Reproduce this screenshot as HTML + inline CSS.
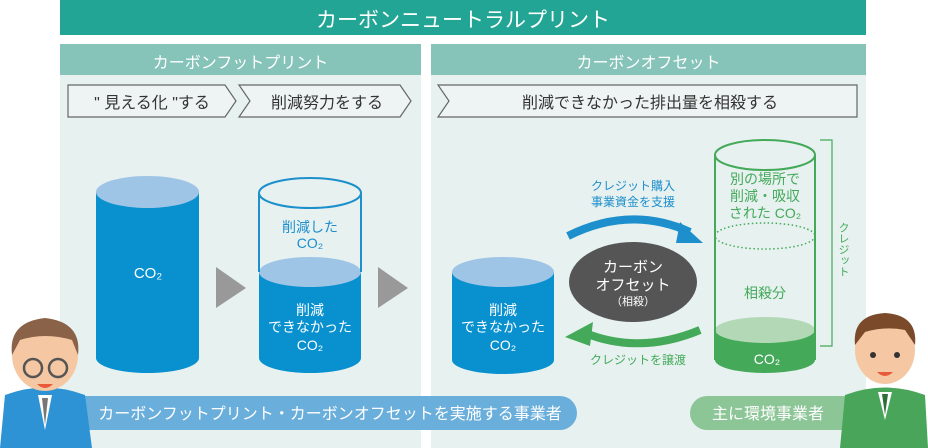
<!DOCTYPE html>
<html><head><meta charset="utf-8"><style>
body{margin:0;width:928px;height:448px;background:#fff;position:relative;overflow:hidden;font-family:"Liberation Sans","Noto Sans CJK JP",sans-serif;}
.a{position:absolute}
.t{position:absolute;text-align:center;color:#fff}
</style></head><body>
<div class="a" style="left:60px;top:0;width:806px;height:35px;background:#22a594"></div>
<div class="t" style="left:60px;top:4px;width:806px;font-size:21px;">カーボンニュートラルプリント</div>
<div class="a" style="left:60px;top:44px;width:361px;height:404px;background:#e7f1f0"></div>
<div class="a" style="left:431px;top:44px;width:435px;height:404px;background:#e7f1f0"></div>
<div class="a" style="left:60px;top:44px;width:361px;height:31px;background:#86c3b9"></div>
<div class="a" style="left:431px;top:44px;width:435px;height:31px;background:#86c3b9"></div>
<div class="t" style="left:60px;top:49px;width:361px;font-size:16px;">カーボンフットプリント</div>
<div class="t" style="left:431px;top:49px;width:435px;font-size:16px;">カーボンオフセット</div>
<svg class="a" style="left:0;top:0" width="928" height="448">
<g fill="#eef4f3" stroke="#666" stroke-width="1.2">
<polygon points="68,85 225,85 236,101 225,117 68,117"/>
<polygon points="239,85 400,85 411,101 400,117 239,117 250,101"/>
<polygon points="438,85 857,85 857,117 438,117 449,101"/>
</g>
<text x="152" y="108" font-size="16" fill="#333" text-anchor="middle">" 見える化 "する</text>
<text x="327" y="108" font-size="16" fill="#333" text-anchor="middle">削減努力をする</text>
<text x="650" y="108" font-size="16" fill="#333" text-anchor="middle">削減できなかった排出量を相殺する</text>
<path d="M96,192 V358 A51.5,15 0 0 0 199,358 V192 Z" fill="#0890cf"/>
<ellipse cx="147.5" cy="192" rx="51.5" ry="16" fill="#9ec4e6"/>
<text x="148" y="278" font-size="15" fill="#fff" text-anchor="middle">CO₂</text>
<path d="M259,272 V358 A51,15 0 0 0 361,358 V272 Z" fill="#0890cf"/>
<ellipse cx="310" cy="272" rx="51" ry="15" fill="#9ec4e6"/>
<path d="M259,193 V272 M361,193 V272" stroke="#1d8fcc" stroke-width="2"/>
<ellipse cx="310" cy="193" rx="51" ry="15" fill="none" stroke="#1d8fcc" stroke-width="2"/>
<text x="310" y="232" font-size="14" fill="#1d8fcc" text-anchor="middle">削減した</text>
<text x="310" y="248" font-size="14" fill="#1d8fcc" text-anchor="middle">CO₂</text>
<text x="310" y="315" font-size="14" fill="#fff" text-anchor="middle">削減</text>
<text x="310" y="332" font-size="14" fill="#fff" text-anchor="middle">できなかった</text>
<text x="310" y="350" font-size="14" fill="#fff" text-anchor="middle">CO₂</text>
<polygon points="216,267 246,288 216,308" fill="#999"/>
<polygon points="378,267 408,288 378,308" fill="#999"/>
<path d="M452,272 V360 A51,14 0 0 0 554,360 V272 Z" fill="#0890cf"/>
<ellipse cx="503" cy="272" rx="51" ry="15" fill="#9ec4e6"/>
<text x="503" y="315" font-size="14" fill="#fff" text-anchor="middle">削減</text>
<text x="503" y="332" font-size="14" fill="#fff" text-anchor="middle">できなかった</text>
<text x="503" y="350" font-size="14" fill="#fff" text-anchor="middle">CO₂</text>
<path d="M715,330 V360 A50,13 0 0 0 815,360 V330 Z" fill="#44aa5a"/>
<ellipse cx="765" cy="330" rx="50" ry="13" fill="#b3d8b5"/>
<path d="M715,155 V360 M815,155 V360" stroke="#44aa5a" stroke-width="2"/>
<ellipse cx="765" cy="155" rx="50" ry="15" fill="none" stroke="#44aa5a" stroke-width="2"/>
<ellipse cx="765" cy="236" rx="50" ry="13" fill="none" stroke="#44aa5a" stroke-width="1.5" stroke-dasharray="1.5,2.5"/>
<text x="765" y="184" font-size="14" fill="#44aa5a" text-anchor="middle">別の場所で</text>
<text x="765" y="201" font-size="14" fill="#44aa5a" text-anchor="middle">削減・吸収</text>
<text x="765" y="218" font-size="14" fill="#44aa5a" text-anchor="middle">された CO₂</text>
<text x="765" y="298" font-size="14" fill="#44aa5a" text-anchor="middle">相殺分</text>
<text x="767" y="364" font-size="14" fill="#fff" text-anchor="middle">CO₂</text>
<path d="M820,140 H832 V346 H820" fill="none" stroke="#44aa5a" stroke-width="1.2"/>
<text x="843" y="222" font-size="11" fill="#44aa5a" writing-mode="tb">クレジット</text>
<path d="M568,236 Q630,205 690,232" fill="none" stroke="#1d8fcc" stroke-width="8"/>
<polygon points="680,222 703,243 676,243" fill="#1d8fcc"/>
<path d="M700,330 Q640,355 585,333" fill="none" stroke="#44aa5a" stroke-width="8"/>
<polygon points="565,337 593,322 590,346" fill="#44aa5a"/>
<text x="633" y="190" font-size="12" fill="#1d8fcc" text-anchor="middle">クレジット購入</text>
<text x="633" y="206" font-size="12" fill="#1d8fcc" text-anchor="middle">事業資金を支援</text>
<text x="638" y="364" font-size="12" fill="#44aa5a" text-anchor="middle">クレジットを譲渡</text>
<ellipse cx="633" cy="282" rx="64" ry="40" fill="#555"/>
<text x="633" y="272" font-size="15" fill="#fff" text-anchor="middle">カーボン</text>
<text x="633" y="290" font-size="15" fill="#fff" text-anchor="middle">オフセット</text>
<text x="633" y="305" font-size="11" fill="#fff" text-anchor="middle">（相殺）</text>
<rect x="60" y="396" width="517" height="34" rx="17" fill="#6aaedb"/>
<text x="330" y="419" font-size="16" fill="#fff" text-anchor="middle">カーボンフットプリント・カーボンオフセットを実施する事業者</text>
<rect x="690" y="396" width="170" height="34" rx="17" fill="#8cc697"/>
<text x="768" y="419" font-size="16" fill="#fff" text-anchor="middle">主に環境事業者</text>
<path d="M0,448 L5,395 Q45,380 85,395 L92,448 Z" fill="#2e93d4"/>
<polygon points="38,395 45,430 52,395" fill="#fff"/>
<polygon points="42,398 45,425 48,398" fill="#777"/>
<ellipse cx="45" cy="355" rx="33" ry="36" fill="#f5c7a2"/>
<path d="M12,355 Q8,322 45,318 Q82,322 78,355 L72,340 Q45,332 20,340 Z" fill="#8a6248"/>
<circle cx="33" cy="368" r="9" fill="none" stroke="#555" stroke-width="2.5"/>
<circle cx="58" cy="368" r="9" fill="none" stroke="#555" stroke-width="2.5"/>
<path d="M37,384 Q45,392 53,384 Z" fill="#e85b3a"/>
<path d="M840,448 L845,395 Q885,380 925,395 L928,448 Z" fill="#49a55a"/>
<polygon points="878,392 885,420 892,392" fill="#fff"/>
<polygon points="882,394 885,415 888,394" fill="#2d6e3a"/>
<ellipse cx="885" cy="350" rx="30" ry="34" fill="#f5c7a2"/>
<path d="M855,345 Q852,315 885,313 Q918,315 915,345 L905,330 Q885,326 865,332 Z" fill="#7a4a2a"/>
<circle cx="873" cy="355" r="3" fill="#333"/><circle cx="897" cy="355" r="3" fill="#333"/>
<path d="M877,372 Q885,380 893,372 Z" fill="#e85b3a"/>
</svg>
</body></html>
